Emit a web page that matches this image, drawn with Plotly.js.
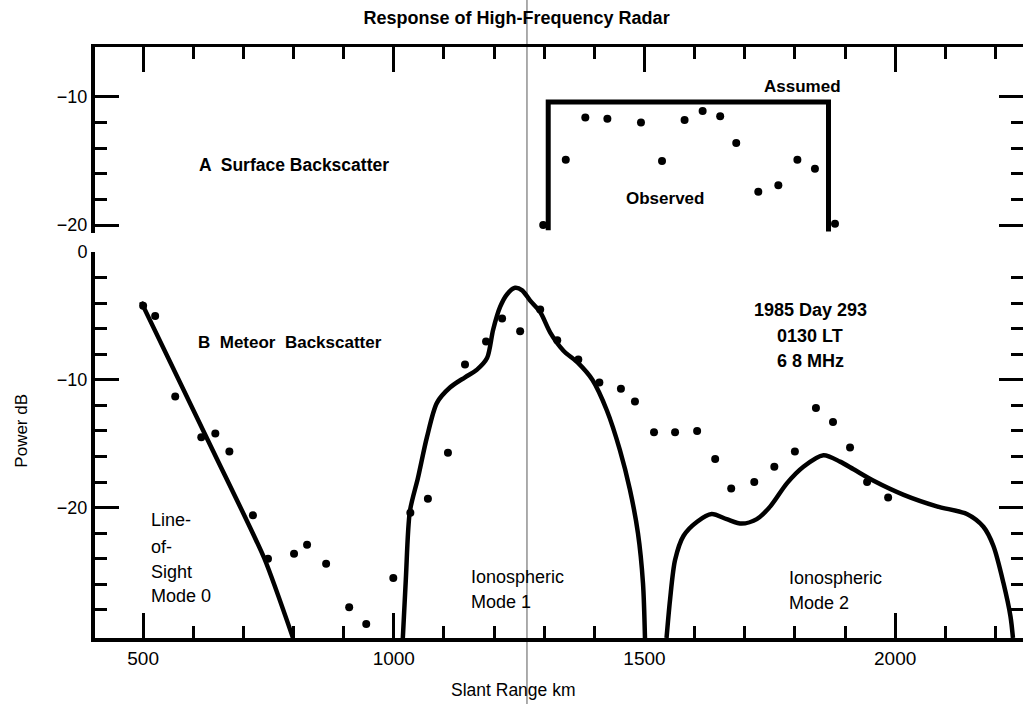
<!DOCTYPE html>
<html>
<head>
<meta charset="utf-8">
<script src="https://cdn.plot.ly/plotly-3.0.1.min.js"></script>
<style>
  html, body { margin: 0; padding: 0; background: #fff; }
  #chart { width: 1023px; height: 704px; }
</style>
</head>
<body>
<div id="chart"></div>
<script>
// ---------- Data ----------
// Panel B: meteor backscatter, observed points (slant range km, power dB)
const meteorRange = [500, 524, 564, 616, 644, 672, 719, 749, 801, 827, 865, 911, 945, 999,
  1033, 1068, 1108, 1142, 1184, 1216, 1252, 1292, 1326, 1368, 1410, 1453, 1481, 1519,
  1561, 1605, 1641, 1673, 1719, 1759, 1800, 1842, 1876, 1910, 1944, 1986];
const meteorPower = [-4.2, -5.0, -11.3, -14.5, -14.2, -15.6, -20.6, -24.0, -23.6, -22.9, -24.4, -27.8, -29.1, -25.5,
  -20.4, -19.3, -15.7, -8.8, -7.0, -5.2, -6.2, -4.5, -6.9, -8.4, -10.2, -10.7, -11.7, -14.1,
  -14.1, -14.0, -16.2, -18.5, -18.0, -16.8, -15.6, -12.2, -13.3, -15.3, -18.0, -19.2];

// Line-of-sight, mode 0 model curve
const mode0Range = [496, 640, 742, 799];
const mode0Power = [-3.9, -15.6, -24.0, -30.2];

// Ionospheric mode 1 model curve
const mode1Range = [1018, 1024, 1032, 1048, 1066, 1086, 1112, 1142, 1166, 1186, 1198, 1212, 1226, 1242,
  1256, 1272, 1292, 1312, 1338, 1368, 1396, 1425, 1451, 1471, 1487, 1497, 1501];
const mode1Power = [-30.2, -25.6, -20.3, -17.7, -14.5, -11.8, -10.6, -9.8, -9.2, -8.3, -6.1, -4.3, -3.3, -2.8,
  -3.0, -3.8, -4.7, -6.3, -7.7, -8.7, -10.0, -12.4, -15.5, -18.6, -22.0, -25.9, -30.2];

// Ionospheric mode 2 model curve
const mode2Range = [1544, 1551, 1561, 1578, 1605, 1634, 1664, 1694, 1724, 1751, 1784, 1817, 1857,
  1890, 1917, 1957, 2017, 2083, 2143, 2176, 2196, 2216, 2230, 2235];
const mode2Power = [-30.2, -27.2, -24.1, -22.2, -21.1, -20.5, -20.9, -21.25, -20.9, -19.9, -18.1, -16.8, -15.9,
  -16.4, -17.0, -17.9, -19.0, -19.9, -20.5, -21.5, -23.0, -25.9, -28.5, -30.2];

// Panel A: surface backscatter, observed points
const surfaceRange = [1298, 1343, 1382, 1426, 1493, 1535, 1580, 1616, 1651, 1683, 1727, 1767, 1805, 1840, 1880];
const surfacePower = [-20.0, -14.9, -11.6, -11.7, -12.0, -15.0, -11.8, -11.1, -11.5, -13.6, -17.4, -16.9, -14.9, -15.6, -19.9];

// Panel A: assumed response (bracket)
const assumedRange = [1308, 1308, 1867, 1867];
const assumedPower = [-20.4, -10.4, -10.4, -20.5];

// Axis ticks
const xTickVals = [500, 1000, 1500, 2000];
const xTickText = ['500', '1000', '1500', '2000'];
const xMinorVals = [500, 600, 700, 800, 900, 1000, 1100, 1200, 1300, 1400, 1500, 1600, 1700, 1800, 1900, 2000, 2100, 2200];
const yBTickVals = [-20, -10, 0];
const yBTickText = ['\u221220', '\u221210', '0'];
const yBMinorVals = [-28, -26, -24, -22, -18, -16, -14, -12, -8, -6, -4, -2];
const yATickVals = [-20, -10];
const yATickText = ['\u221220', '\u221210'];
const yAMinorVals = [-18, -16, -14, -12];

// ---------- Chart ----------
const FONT = 'Liberation Sans, Arial, Helvetica, sans-serif';
const black = '#000';

const traces = [
  { x: mode0Range, y: mode0Power, xaxis: 'x', yaxis: 'y', mode: 'lines',
    line: { color: black, width: 4.5, shape: 'spline', smoothing: 0.6 }, hoverinfo: 'skip' },
  { x: mode1Range, y: mode1Power, xaxis: 'x', yaxis: 'y', mode: 'lines',
    line: { color: black, width: 4.5, shape: 'spline', smoothing: 0.8 }, hoverinfo: 'skip' },
  { x: mode2Range, y: mode2Power, xaxis: 'x', yaxis: 'y', mode: 'lines',
    line: { color: black, width: 4.5, shape: 'spline', smoothing: 0.8 }, hoverinfo: 'skip' },
  { x: meteorRange, y: meteorPower, xaxis: 'x', yaxis: 'y', mode: 'markers',
    marker: { color: black, size: 8 } },
  { x: assumedRange, y: assumedPower, xaxis: 'x2', yaxis: 'y2', mode: 'lines',
    line: { color: black, width: 5 }, hoverinfo: 'skip' },
  { x: surfaceRange, y: surfacePower, xaxis: 'x2', yaxis: 'y2', mode: 'markers',
    marker: { color: black, size: 8 } }
];

const xRange = [404, 2255];
const tickStyle = { ticks: 'inside', tickcolor: black, tickwidth: 3 };

const txt = (size, bold) => ({ family: FONT, size: size, color: black, weight: bold ? 'bold' : 'normal' });

const layout = {
  width: 1023, height: 704,
  margin: { l: 95, r: 0, t: 47, b: 66 },
  paper_bgcolor: '#fff', plot_bgcolor: '#fff',
  showlegend: false,
  font: { family: FONT, color: black },
  title: {
    text: 'Response of High-Frequency Radar',
    font: txt(18, true),
    x: 0.505, xanchor: 'center', y: 0.975, yanchor: 'middle'
  },
  xaxis: Object.assign({
    domain: [0, 1], range: xRange, anchor: 'y',
    showline: true, linewidth: 4, linecolor: black, mirror: false,
    tickmode: 'array', tickvals: xTickVals, ticktext: xTickText, ticklen: 25,
    tickfont: txt(19, false),
    minor: { tickmode: 'array', tickvals: xMinorVals, ticks: 'inside', ticklen: 12, tickwidth: 3, tickcolor: black, showgrid: false },
    showgrid: false, zeroline: false
  }, tickStyle),
  xaxis2: Object.assign({
    domain: [0, 1], range: xRange, anchor: 'y2', side: 'top',
    showline: true, linewidth: 3, linecolor: black,
    tickmode: 'array', tickvals: xTickVals, ticklen: 25, showticklabels: false,
    minor: { tickmode: 'array', tickvals: xMinorVals, ticks: 'inside', ticklen: 12, tickwidth: 3, tickcolor: black, showgrid: false },
    showgrid: false, zeroline: false
  }, tickStyle),
  yaxis: Object.assign({
    domain: [0, 0.6531], range: [-30.2, 0], anchor: 'x',
    showline: true, linewidth: 4, linecolor: black, mirror: 'ticks',
    tickmode: 'array', tickvals: yBTickVals, ticktext: yBTickText, ticklen: 24,
    tickfont: txt(18, false),
    minor: { tickmode: 'array', tickvals: yBMinorVals, ticks: 'inside', ticklen: 12, tickwidth: 3, tickcolor: black, showgrid: false },
    showgrid: false, zeroline: false
  }, tickStyle),
  yaxis2: Object.assign({
    domain: [0.6858, 1], range: [-20.6, -6.1], anchor: 'x2',
    showline: true, linewidth: 4, linecolor: black, mirror: 'ticks',
    tickmode: 'array', tickvals: yATickVals, ticktext: yATickText, ticklen: 24,
    tickfont: txt(18, false),
    minor: { tickmode: 'array', tickvals: yAMinorVals, ticks: 'inside', ticklen: 12, tickwidth: 3, tickcolor: black, showgrid: false },
    showgrid: false, zeroline: false
  }, tickStyle),
  annotations: [
    { text: 'A  Surface Backscatter', xref: 'x2', yref: 'y2', x: 608, y: -15.3, xanchor: 'left', yanchor: 'middle', showarrow: false, font: txt(17.5, true) },
    { text: 'Assumed', xref: 'x2', yref: 'y2', x: 1816, y: -9.2, xanchor: 'center', yanchor: 'middle', showarrow: false, font: txt(17, true) },
    { text: 'Observed', xref: 'x2', yref: 'y2', x: 1541, y: -17.95, xanchor: 'center', yanchor: 'middle', showarrow: false, font: txt(17, true) },
    { text: 'B  Meteor  Backscatter', xref: 'x', yref: 'y', x: 605, y: -7.1, xanchor: 'left', yanchor: 'middle', showarrow: false, font: txt(17, true) },
    { text: '1985 Day 293', xref: 'x', yref: 'y', x: 1831, y: -4.55, xanchor: 'center', yanchor: 'middle', showarrow: false, font: txt(18, true) },
    { text: '0130 LT', xref: 'x', yref: 'y', x: 1831, y: -6.55, xanchor: 'center', yanchor: 'middle', showarrow: false, font: txt(18, true) },
    { text: '6 8 MHz', xref: 'x', yref: 'y', x: 1831, y: -8.5, xanchor: 'center', yanchor: 'middle', showarrow: false, font: txt(18, true) },
    { text: 'Line-', xref: 'x', yref: 'y', x: 512, y: -21.0, xanchor: 'left', yanchor: 'middle', showarrow: false, font: txt(18, false) },
    { text: 'of-', xref: 'x', yref: 'y', x: 512, y: -23.05, xanchor: 'left', yanchor: 'middle', showarrow: false, font: txt(18, false) },
    { text: 'Sight', xref: 'x', yref: 'y', x: 512, y: -25.0, xanchor: 'left', yanchor: 'middle', showarrow: false, font: txt(18, false) },
    { text: 'Mode 0', xref: 'x', yref: 'y', x: 512, y: -26.95, xanchor: 'left', yanchor: 'middle', showarrow: false, font: txt(18, false) },
    { text: 'Ionospheric', xref: 'x', yref: 'y', x: 1150, y: -25.4, xanchor: 'left', yanchor: 'middle', showarrow: false, font: txt(18, false) },
    { text: 'Mode 1', xref: 'x', yref: 'y', x: 1150, y: -27.35, xanchor: 'left', yanchor: 'middle', showarrow: false, font: txt(18, false) },
    { text: 'Ionospheric', xref: 'x', yref: 'y', x: 1785, y: -25.5, xanchor: 'left', yanchor: 'middle', showarrow: false, font: txt(18, false) },
    { text: 'Mode 2', xref: 'x', yref: 'y', x: 1785, y: -27.5, xanchor: 'left', yanchor: 'middle', showarrow: false, font: txt(18, false) },
    { text: 'Slant Range km', xref: 'paper', yref: 'paper', x: 0.4515, y: -0.088, xanchor: 'center', yanchor: 'middle', showarrow: false, font: txt(17.5, false) },
    { text: 'Power dB', xref: 'paper', yref: 'paper', x: -0.0792, y: 0.35, xanchor: 'center', yanchor: 'middle', textangle: -90, showarrow: false, font: txt(17, false) }
  ],
  shapes: [
    // thin fold line of the scanned original
    { type: 'line', xref: 'paper', yref: 'paper', x0: 0.4655, x1: 0.4655, y0: -0.1117, y1: 1.0795,
      line: { color: 'rgba(0,0,0,0.65)', width: 1 }, layer: 'above' }
  ]
};

Plotly.newPlot('chart', traces, layout, { staticPlot: true, displayModeBar: false });
</script>
</body>
</html>
